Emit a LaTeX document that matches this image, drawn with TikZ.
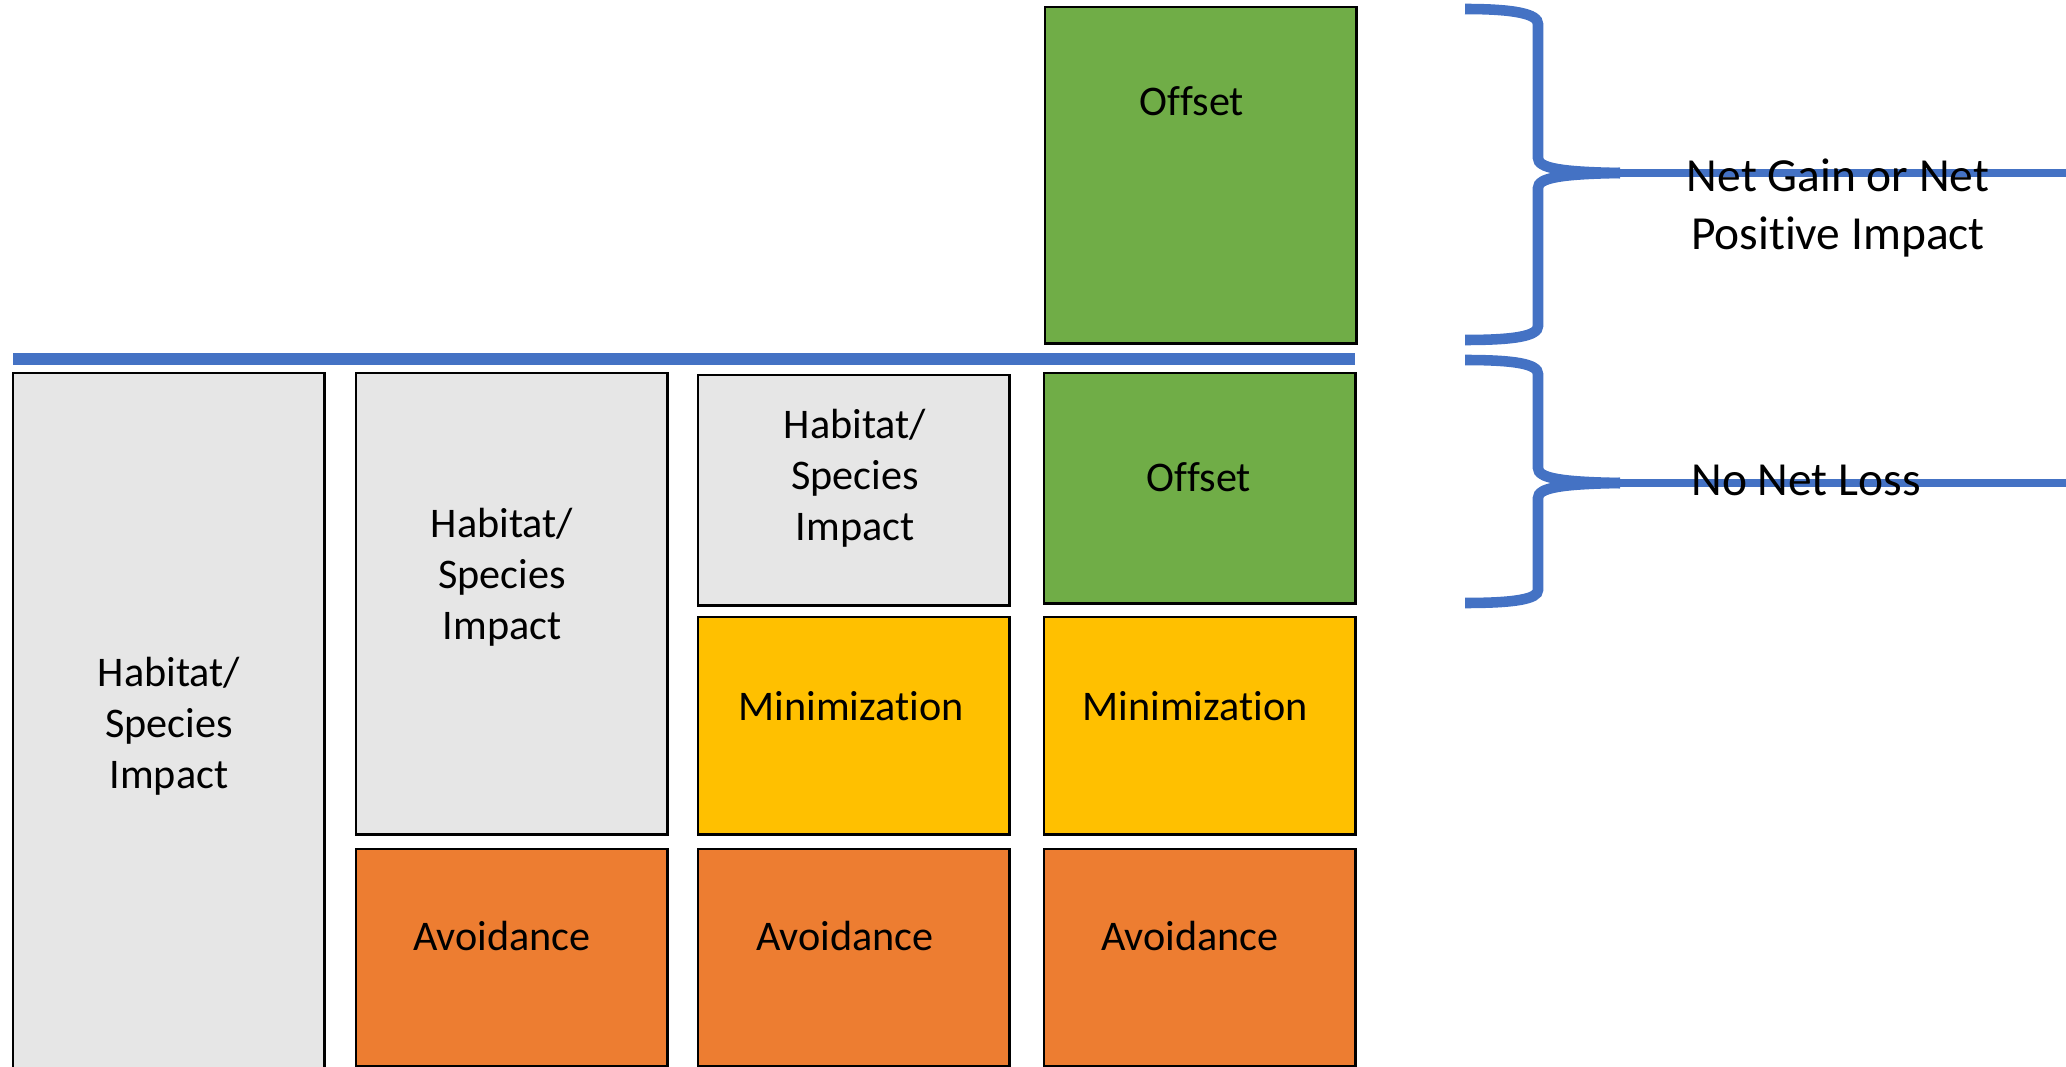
\documentclass[tikz,border=0pt]{standalone}
\usepackage{fontspec}
\setmainfont[Ligatures=NoCommon]{Carlito}

\definecolor{impactgray}{HTML}{E6E6E6}
\definecolor{offsetgreen}{HTML}{70AD47}
\definecolor{minyellow}{HTML}{FFC000}
\definecolor{avoidorange}{HTML}{ED7D31}
\definecolor{braceblue}{HTML}{4472C4}

\tikzset{
  box/.style={draw=black, line width=0.8pt, anchor=north west, inner sep=0pt, outer sep=0pt, minimum width=3.11cm},
  boxtext/.style={align=center, font=\fontsize{12pt}{14.5pt}\selectfont},
  sidetext/.style={align=center, font=\fontsize{13.5pt}{16.5pt}\selectfont},
  bracearm/.style={draw=braceblue, line width=3pt, line cap=butt},
  braceline/.style={draw=braceblue, line width=2.2pt}
}

\begin{document}
\begin{tikzpicture}[x=0.01cm, y=-0.01cm]

    % Fix the page to the size of the picture (units are pixels)
    \useasboundingbox (0,0) rectangle (2066,1067);

    % Column 1: impact only
    \node[box, fill=impactgray, minimum height=7.02cm] (imp1) at (13,373) {};
    \node[boxtext] (imp1txt) at (169,726) {Habitat/\\Species\\Impact};

    % Column 2: impact reduced by avoidance
    \node[box, fill=impactgray, minimum height=4.61cm] (imp2) at (356,373) {};
    \node[box, fill=avoidorange, minimum height=2.17cm] (avo2) at (356,849) {};
    \node[boxtext] (imp2txt) at (502,577) {Habitat/\\Species\\Impact};
    \node[boxtext] (avo2txt) at (502,936) {Avoidance};

    % Column 3: avoidance plus minimization
    \node[box, fill=impactgray, minimum height=2.30cm] (imp3) at (698,375) {};
    \node[box, fill=minyellow, minimum height=2.17cm] (min3) at (698,617) {};
    \node[box, fill=avoidorange, minimum height=2.17cm] (avo3) at (698,849) {};
    \node[boxtext] (imp3txt) at (855,478) {Habitat/\\Species\\Impact};
    \node[boxtext] (min3txt) at (851,706) {Minimization};
    \node[boxtext] (avo3txt) at (845,936) {Avoidance};

    % Column 4: avoidance, minimization and offset
    \node[box, fill=offsetgreen, minimum height=2.30cm] (off4) at (1044,373) {};
    \node[box, fill=minyellow, minimum height=2.17cm] (min4) at (1044,617) {};
    \node[box, fill=avoidorange, minimum height=2.17cm] (avo4) at (1044,849) {};
    \node[boxtext] (off4txt) at (1199,477) {Offset};
    \node[boxtext] (min4txt) at (1195,706) {Minimization};
    \node[boxtext] (avo4txt) at (1190,936) {Avoidance};

    % Extra offset above the no net loss line
    \node[box, fill=offsetgreen, minimum height=3.36cm] (offtop) at (1045,7) {};
    \node[boxtext] (offtoptxt) at (1192,101) {Offset};

    % The no net loss baseline
    \coordinate (baseL) at (13,359);
    \coordinate (baseR) at (1355,359);
    \draw[draw=braceblue, line width=3.4pt] (baseL) -- (baseR);

    % Brace tips and the lines running off to the right
    \coordinate (gaintip) at (1620,173);
    \coordinate (gainend) at (2070,173);
    \coordinate (losstip) at (1620,483);
    \coordinate (lossend) at (2070,483);

    % Upper brace
    \draw[bracearm] (1465,9) .. controls (1515,9) and (1538,14) .. (1538,24)
        -- (1538,158) .. controls (1538,168) and (1560,172) .. (gaintip);
    \draw[bracearm] (gaintip) .. controls (1560,174) and (1538,178) .. (1538,188)
        -- (1538,326) .. controls (1538,336) and (1515,340) .. (1465,340);
    \draw[braceline] (gaintip) -- (gainend);

    % Lower brace
    \draw[bracearm] (1465,360) .. controls (1515,360) and (1538,364) .. (1538,374)
        -- (1538,468) .. controls (1538,478) and (1560,482) .. (losstip);
    \draw[bracearm] (losstip) .. controls (1560,484) and (1538,488) .. (1538,498)
        -- (1538,590) .. controls (1538,599) and (1515,603) .. (1465,603);
    \draw[braceline] (losstip) -- (lossend);

    % Labels on the right
    \node[sidetext] (gain) at (1838,208) {Net Gain or Net\\Positive Impact};
    \node[sidetext] (loss) at (1806,480) {No Net Loss};

\end{tikzpicture}
\end{document}
